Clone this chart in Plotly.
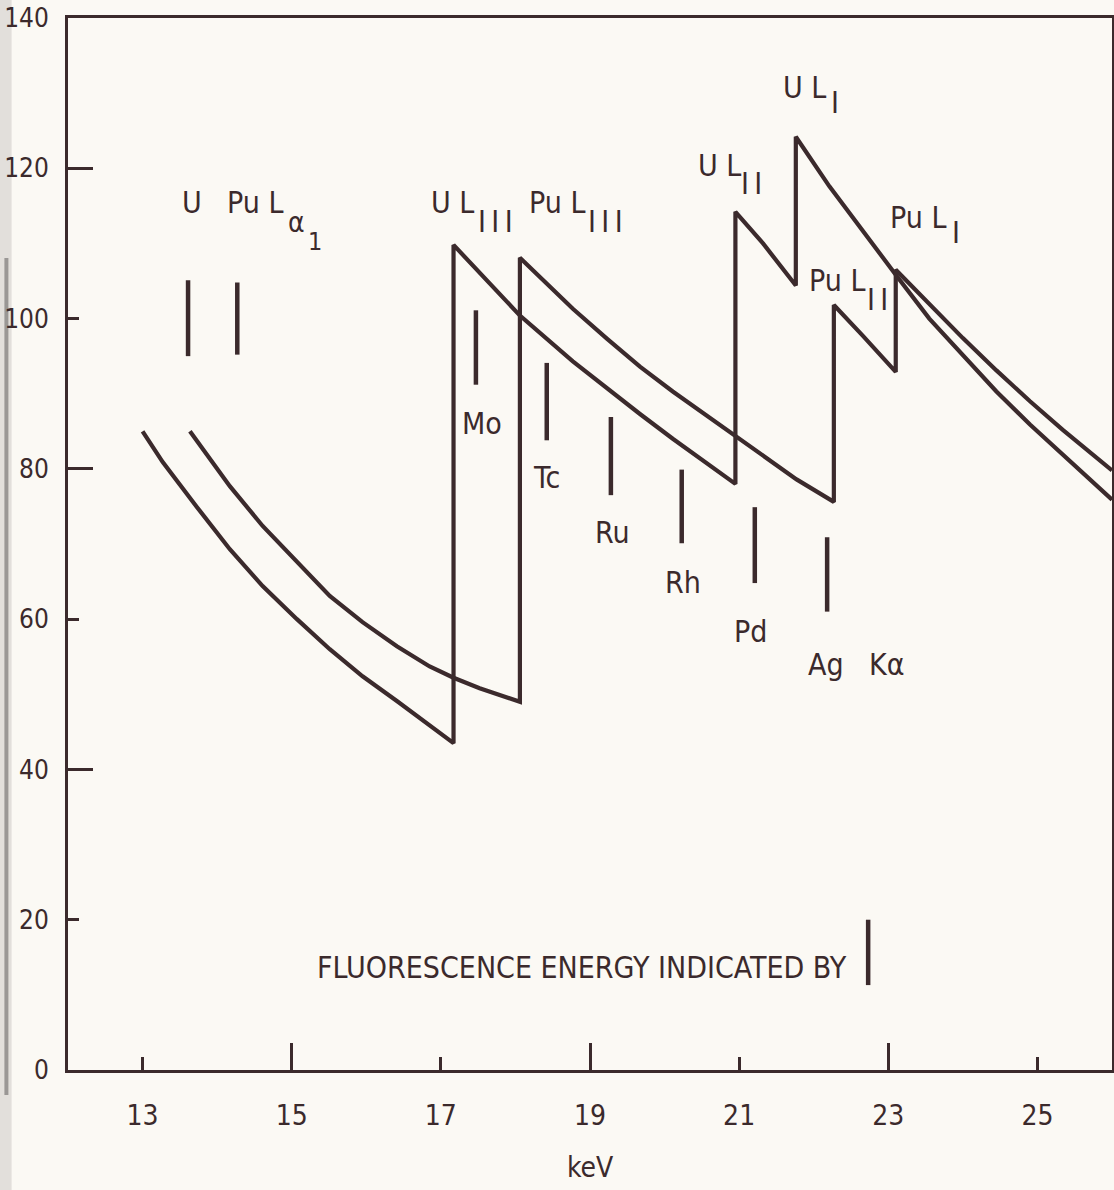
import plotly.graph_objects as go

# ---------------- data ----------------
# Uranium absorption curve (keV, value); repeated energies are the absorption edges
u_energy_keV = [13.00, 13.27, 13.73, 14.17, 14.61, 15.07, 15.51, 15.95, 16.41, 16.85, 17.17,
                17.17, 18.06, 18.77, 19.23, 19.67, 20.11, 20.57, 20.95,
                20.95, 21.32, 21.76,
                21.76, 22.21, 22.66, 23.11, 23.55, 24.00, 24.45, 24.90, 25.34, 25.79, 26.00]
u_value = [85.0, 80.9, 74.9, 69.3, 64.4, 60.0, 56.0, 52.4, 49.1, 45.9, 43.5,
           109.8, 100.4, 94.3, 90.7, 87.3, 84.0, 80.8, 78.0,
           114.2, 110.0, 104.4,
           124.2, 117.6, 111.6, 105.7, 100.0, 95.1, 90.3, 85.9, 81.9, 77.8, 75.9]

# Plutonium absorption curve
pu_energy_keV = [13.635, 14.17, 14.61, 15.07, 15.51, 15.95, 16.41, 16.85, 17.17, 17.52, 18.06,
                 18.06, 18.77, 19.23, 19.67, 20.11, 20.57, 20.95, 21.32, 21.77, 22.27,
                 22.27, 22.66, 23.10,
                 23.10, 23.55, 24.00, 24.45, 24.90, 25.34, 25.79, 26.00]
pu_value = [85.0, 77.7, 72.4, 67.6, 63.1, 59.6, 56.4, 53.7, 52.2, 50.8, 49.0,
            108.1, 101.3, 97.3, 93.6, 90.3, 87.1, 84.3, 81.8, 78.6, 75.6,
            101.8, 97.7, 92.9,
            106.5, 101.9, 97.4, 93.1, 89.0, 85.2, 81.5, 79.8]

# Fluorescence-energy markers (last one is the key marker next to the note)
marker_names = ["U Lα1", "Pu Lα1", "Mo", "Tc", "Ru", "Rh", "Pd", "Ag", "key"]
marker_energy_keV = [13.61, 14.27, 17.47, 18.42, 19.28, 20.23, 21.21, 22.18, 22.73]
marker_top = [105.1, 104.8, 101.1, 94.1, 86.9, 79.9, 74.9, 70.9, 20.0]
marker_bottom = [95.0, 95.2, 91.2, 83.8, 76.5, 70.1, 64.8, 61.0, 11.3]

x_tick_vals = [13, 15, 17, 19, 21, 23, 25]
x_long_ticks = [15, 19, 23]
y_tick_vals = [0, 20, 40, 60, 80, 100, 120, 140]
y_long_ticks = [40, 80, 120]

# ---------------- style ----------------
INK = "#3b2a2c"
BG = "#fbf9f4"
FONT = "DejaVu Sans Condensed, Liberation Sans Narrow, sans-serif"

fig = go.Figure()

fig.add_trace(go.Scatter(x=u_energy_keV, y=u_value, mode="lines",
                         line=dict(color=INK, width=4.2), name="U",
                         hoverinfo="skip"))
fig.add_trace(go.Scatter(x=pu_energy_keV, y=pu_value, mode="lines",
                         line=dict(color=INK, width=4.2), name="Pu",
                         hoverinfo="skip"))

mx, my = [], []
for e, t, b in zip(marker_energy_keV, marker_top, marker_bottom):
    mx += [e, e, None]
    my += [b, t, None]
fig.add_trace(go.Scatter(x=mx, y=my, mode="lines",
                         line=dict(color=INK, width=4.5), name="fluorescence",
                         hoverinfo="skip"))

# dummy traces so the overlay axes (long ticks) are drawn
fig.add_trace(go.Scatter(x=[None], y=[None], xaxis="x2", yaxis="y", showlegend=False))
fig.add_trace(go.Scatter(x=[None], y=[None], xaxis="x", yaxis="y2", showlegend=False))

# ---------------- text labels ----------------
def lab(text, x, y, size=30, anchor="center"):
    fig.add_annotation(text=text, x=x, y=y, xref="x", yref="y", showarrow=False,
                       xanchor=anchor, yanchor="middle",
                       font=dict(family=FONT, size=size, color=INK))

THIN = "\u2009"
lab("U", 13.66, 115.5)
lab("Pu L", 14.51, 115.5)
lab("α", 15.06, 112.8, size=28)
lab("1", 15.31, 110.2, size=25)

lab("U L", 17.15, 115.5)
lab("I" + THIN + "I" + THIN + "I", 17.73, 112.9)
lab("Pu L", 18.56, 115.5)
lab("I" + THIN + "I" + THIN + "I", 19.21, 112.9)

lab("U L", 20.73, 120.4)
lab("I" + THIN + "I", 21.17, 118.0)
lab("U L", 21.88, 130.8)
lab("I", 22.29, 128.7)
lab("Pu L", 23.40, 113.5)
lab("I", 23.91, 111.4)
lab("Pu L", 22.31, 105.1)
lab("I" + THIN + "I", 22.85, 102.5)

lab("Mo", 17.55, 86.1)
lab("Tc", 18.42, 78.9)
lab("Ru", 19.30, 71.5)
lab("Rh", 20.25, 64.9)
lab("Pd", 21.15, 58.3)
lab("Ag", 22.17, 53.9)
lab("Kα", 22.98, 53.9)

lab("FLUORESCENCE ENERGY INDICATED BY", 22.47, 13.7, anchor="right")

fig.add_annotation(text="keV", x=19.0, xref="x", y=-0.093, yref="paper",
                   showarrow=False, xanchor="center", yanchor="middle",
                   font=dict(family=FONT, size=28, color=INK))

# scan-edge strip at the far left
fig.add_shape(type="rect", xref="paper", yref="paper",
              x0=-0.0652, x1=-0.0540, y0=-0.115, y1=1.02,
              fillcolor="#e2dfdb", line=dict(width=0), layer="below")
fig.add_shape(type="line", xref="paper", yref="paper",
              x0=-0.0590, x1=-0.0590, y0=(1070 - 1095) / 1052, y1=(1070 - 258) / 1052,
              line=dict(color="#9a9795", width=4), layer="below")

axis_common = dict(showgrid=False, zeroline=False, automargin=False)

fig.update_layout(
    width=1114, height=1190,
    margin=dict(l=68, r=2, t=18, b=120),
    paper_bgcolor=BG, plot_bgcolor=BG,
    showlegend=False,
    font=dict(family=FONT, color=INK),
    xaxis=dict(range=[12, 26], tickvals=x_tick_vals, ticks="inside", ticklen=13,
               tickwidth=3, tickcolor=INK, showline=True, linewidth=3, linecolor=INK,
               mirror=True, tickfont=dict(family=FONT, size=28, color=INK),
               ticklabelstandoff=18, **axis_common),
    xaxis2=dict(range=[12, 26], overlaying="x", anchor="y", side="bottom",
                tickvals=x_long_ticks, ticks="inside", ticklen=27, tickwidth=3,
                tickcolor=INK, showticklabels=False, showline=False, **axis_common),
    yaxis=dict(range=[0, 140], tickvals=y_tick_vals, ticks="inside", ticklen=11,
               tickwidth=3, tickcolor=INK, showline=True, linewidth=3, linecolor=INK,
               mirror=True, tickfont=dict(family=FONT, size=26, color=INK),
               ticklabelstandoff=11, **axis_common),
    yaxis2=dict(range=[0, 140], overlaying="y", anchor="x", side="left",
                tickvals=y_long_ticks, ticks="inside", ticklen=25, tickwidth=3,
                tickcolor=INK, showticklabels=False, showline=False, **axis_common),
)

fig.write_html("out.html", config={"displayModeBar": False},
               post_script="document.body.style.margin='0';document.body.style.padding='0';")
